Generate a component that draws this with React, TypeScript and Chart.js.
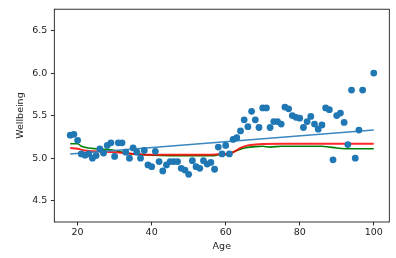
import React, { useEffect, useRef } from "react";
import { Chart, registerables } from "chart.js";

Chart.register(...registerables);

const ages = [
  18, 19, 20, 21, 22, 23, 24, 25, 26, 27, 28, 29, 30, 31, 32, 33, 34, 35, 36, 37,
  38, 39, 40, 41, 42, 43, 44, 45, 46, 47, 48, 49, 50, 51, 52, 53, 54, 55, 56, 57,
  58, 59, 60, 61, 62, 63, 64, 65, 66, 67, 68, 69, 70, 71, 72, 73, 74, 75, 76, 77,
  78, 79, 80, 81, 82, 83, 84, 85, 86, 87, 88, 89, 90, 91, 92, 93, 94, 95, 96, 97, 100,
];
const wellbeing = [
  5.27, 5.28, 5.21, 5.05, 5.035, 5.05, 5.0, 5.03, 5.11, 5.06, 5.15, 5.18, 5.02, 5.18, 5.18, 5.07, 5.0, 5.12, 5.07, 5.0,
  5.09, 4.92, 4.9, 5.08, 4.96, 4.85, 4.92, 4.96, 4.96, 4.96, 4.88, 4.86, 4.81, 4.97, 4.9, 4.88, 4.97, 4.93, 4.95, 4.87,
  5.13, 5.05, 5.15, 5.05, 5.22, 5.24, 5.32, 5.45, 5.37, 5.55, 5.45, 5.36, 5.59, 5.59, 5.36, 5.43, 5.43, 5.4, 5.6, 5.58,
  5.5, 5.48, 5.47, 5.36, 5.43, 5.49, 5.4, 5.34, 5.39, 5.59, 5.57, 4.98, 5.5, 5.53, 5.42, 5.16, 5.8, 5.0, 5.33, 5.8, 6.0,
];

const linearAges = [18, 100];
const linearFit = [5.05, 5.33];

const redAges = [18, 20, 22, 25, 30, 35, 40, 45, 50, 55, 58, 60, 62, 64, 66, 68, 70, 75, 80, 90, 100];
const redFit = [5.12, 5.11, 5.09, 5.08, 5.07, 5.05, 5.04, 5.04, 5.04, 5.04, 5.045, 5.05, 5.07, 5.12, 5.15, 5.16, 5.165, 5.17, 5.17, 5.17, 5.17];

const greenAges = [18, 20, 21, 23, 25, 30, 33, 35, 40, 45, 50, 57, 58, 60, 61, 63, 65, 68, 70, 72, 75, 80, 86, 88, 90, 93, 100];
const greenFit = [5.17, 5.17, 5.14, 5.12, 5.11, 5.09, 5.06, 5.05, 5.035, 5.03, 5.03, 5.03, 5.04, 5.04, 5.05, 5.09, 5.12, 5.135, 5.14, 5.13, 5.14, 5.14, 5.14, 5.13, 5.12, 5.11, 5.11];

const xTicks = [20, 40, 60, 80, 100];
const yTicks = [4.5, 5.0, 5.5, 6.0, 6.5];

const zip = (xs: number[], ys: number[]) => xs.map((x, i) => ({ x, y: ys[i] }));

const framePlugin = {
  id: "frame",
  afterDraw(chart: any) {
    const { ctx, chartArea } = chart;
    ctx.save();
    ctx.strokeStyle = "#000";
    ctx.lineWidth = 0.8;
    ctx.strokeRect(chartArea.left, chartArea.top, chartArea.right - chartArea.left, chartArea.bottom - chartArea.top);
    ctx.restore();
  },
};

export default function App() {
  const ref = useRef<HTMLCanvasElement>(null);
  useEffect(() => {
    document.body.style.margin = "0";
    const font = { family: "DejaVu Sans", size: 9.5 };
    const chart = new Chart(ref.current!, {
      type: "scatter",
      data: {
        datasets: [
          {
            data: zip(ages, wellbeing),
            backgroundColor: "#1f77b4",
            borderColor: "#1f77b4",
            pointRadius: 3.4,
            pointBorderWidth: 0,
          },
          {
            type: "line",
            data: zip(linearAges, linearFit),
            borderColor: "#3a87c0",
            borderWidth: 1.5,
            pointRadius: 0,
            fill: false,
          },
          {
            type: "line",
            data: zip(redAges, redFit),
            borderColor: "rgba(255,0,0,0.85)",
            borderWidth: 2,
            pointRadius: 0,
            cubicInterpolationMode: "monotone",
            fill: false,
          },
          {
            type: "line",
            data: zip(greenAges, greenFit),
            borderColor: "#008000",
            borderWidth: 1.6,
            pointRadius: 0,
            cubicInterpolationMode: "monotone",
            fill: false,
          },
        ] as any,
      },
      options: {
        animation: false,
        responsive: false,
        events: [],
        layout: { padding: { left: 0, right: 6.7, top: 5, bottom: 0 } },
        plugins: { legend: { display: false }, tooltip: { enabled: false } },
        scales: {
          x: {
            type: "linear",
            min: 13.7,
            max: 104.2,
            afterFit: (s: any) => {
              s.height = 36;
            },
            afterBuildTicks: (s: any) => {
              s.ticks = xTicks.map((v) => ({ value: v }));
            },
            grid: { display: true, drawOnChartArea: false, tickLength: 3.5, color: "#000", lineWidth: 0.8 },
            border: { display: false },
            ticks: { font, color: "#222", padding: 1.5, maxRotation: 0, callback: (v: any) => String(v) },
            title: { display: true, text: "Age", font, color: "#222", padding: { top: 0, bottom: 5.3 } },
          },
          y: {
            type: "linear",
            min: 4.25,
            max: 6.75,
            afterFit: (s: any) => {
              s.width = 54.3;
            },
            afterBuildTicks: (s: any) => {
              s.ticks = yTicks.map((v) => ({ value: v }));
            },
            grid: { display: true, drawOnChartArea: false, tickLength: 3.5, color: "#000", lineWidth: 0.8 },
            border: { display: false },
            ticks: { font, color: "#222", padding: 3.5, callback: (v: any) => Number(v).toFixed(1) },
            title: { display: true, text: "Wellbeing", font, color: "#222", padding: { top: 15.3, bottom: 0 } },
          },
        },
      },
      plugins: [framePlugin],
    });
    return () => chart.destroy();
  }, []);
  return (
    <div style={{ width: 396, height: 258, background: "#fff" }}>
      <canvas ref={ref} width={396} height={258} style={{ display: "block" }} />
    </div>
  );
}
